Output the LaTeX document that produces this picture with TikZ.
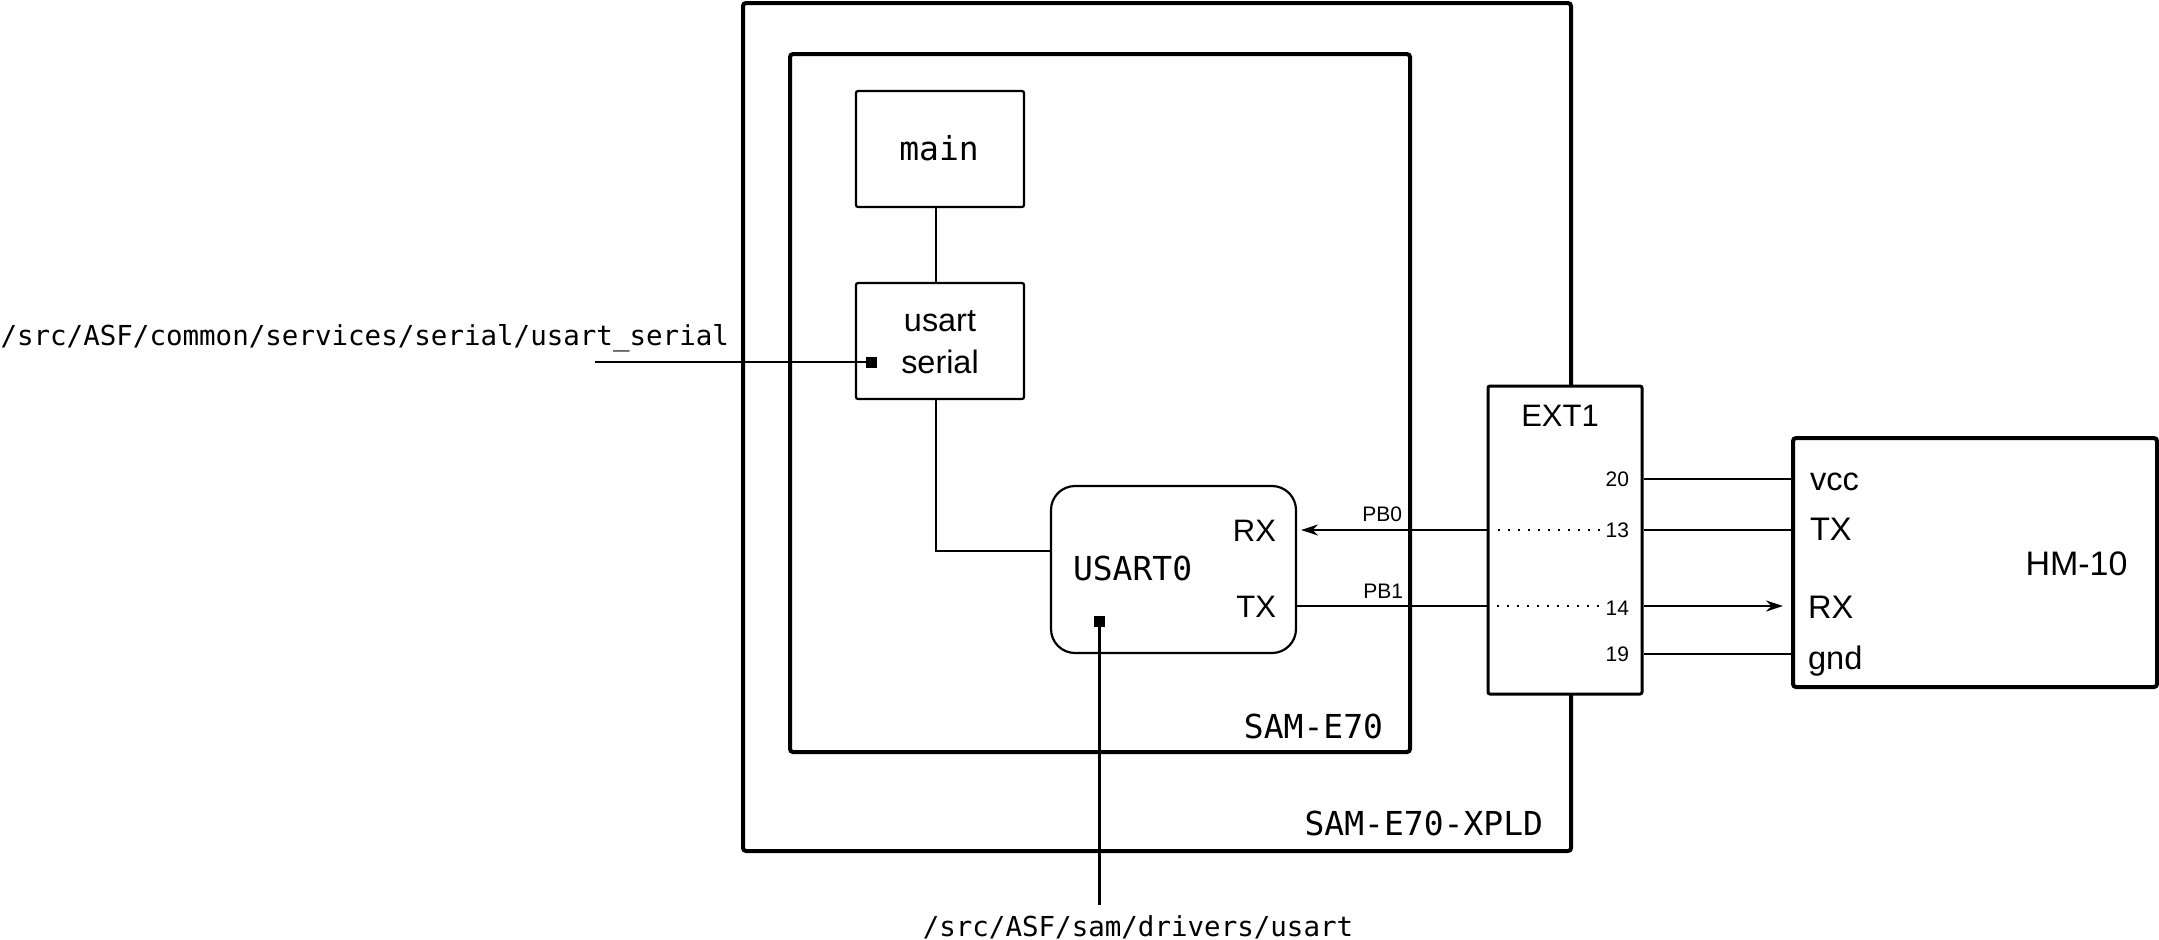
\documentclass[tikz,border=0pt]{standalone}
\usepackage{fontspec}
\setmainfont{Liberation Sans}
\setmonofont{DejaVu Sans Mono}
\usetikzlibrary{arrows.meta,calc}
\newcommand\fmonoL{\ttfamily\fontsize{16.5pt}{20pt}\selectfont}
\newcommand\fmonoS{\ttfamily\fontsize{13.75pt}{16pt}\selectfont}
\newcommand\fsansL{\fontsize{16.2pt}{20pt}\selectfont}
\newcommand\fsansM{\fontsize{15.5pt}{18pt}\selectfont}
\newcommand\fsansH{\fontsize{16.3pt}{20pt}\selectfont}
\newcommand\fsansX{\fontsize{17pt}{20pt}\selectfont}
\newcommand\fsansS{\fontsize{10.5pt}{12pt}\selectfont}
\begin{document}
\begin{tikzpicture}[x=0.5pt,y=-0.5pt,
  bigbox/.style={draw, line width=2pt, rounded corners=1.5pt, inner sep=0},
  smallbox/.style={draw, line width=1.1pt, rounded corners=1pt, inner sep=0},
  ubox/.style={draw, line width=1.1pt, rounded corners=12pt, inner sep=0},
  extbox/.style={draw, fill=white, line width=1.5pt, rounded corners=1pt, inner sep=0},
  lbl/.style={inner sep=0, outer sep=0},
  wire/.style={line width=1.15pt},
  sq/.style={fill=black, inner sep=0, outer sep=0, minimum size=5.5pt},
  dots/.style={line width=1pt, dash pattern=on 1pt off 4pt},
  arr/.style={-{Stealth[length=8.5pt,width=5.5pt]}}]
\fill[white] (0,0) rectangle (2159,939);
\useasboundingbox (0,0) rectangle (2159,939);
% enclosing boards
\node[bigbox, minimum width=414pt, minimum height=424pt] (xpld) at (1157,427) {};
\node[bigbox, minimum width=310pt, minimum height=349pt] (same70) at (1100,403) {};
\node[lbl, font=\fmonoL, anchor=base east] (same70lbl) at (1383,738) {SAM-E70};
\node[lbl, font=\fmonoL, anchor=base east] (xpldlbl) at (1543,835) {SAM-E70-XPLD};
% software blocks
\node[smallbox, minimum width=84pt, minimum height=58pt] (main) at (940,149) {};
\node[lbl, font=\fmonoL, anchor=base] (maintxt) at (939,160) {main};
\node[smallbox, minimum width=84pt, minimum height=58pt] (userial) at (940,341) {};
\node[lbl, font=\fsansL, anchor=base] (ustxt1) at (940,331.7) {usart};
\node[lbl, font=\fsansL, anchor=base] (ustxt2) at (940,373.3) {serial};
\node[ubox, minimum width=122.5pt, minimum height=83.5pt] (usart0) at (1173.5,569.5) {};
\node[lbl, font=\fmonoL, anchor=base west] (u0txt) at (1073,580) {USART0};
\node[lbl, font=\fsansM, anchor=base east] (rxl) at (1276,541) {RX};
\node[lbl, font=\fsansM, anchor=base east] (txl) at (1276,617) {TX};
% markers and paths
\node[sq] (sq1) at (871.5,362) {};
\node[sq] (sq2) at (1099.5,621) {};
\coordinate (lend) at (595,362);
\coordinate (bend) at (1099.5,905);
\node[lbl, font=\fmonoS, anchor=base east] (path1) at (729,345) {/src/ASF/common/services/serial/usart\_serial};
\node[lbl, font=\fmonoS, anchor=base] (path2) at (1138,936) {/src/ASF/sam/drivers/usart};
\draw[wire] (lend) -- (sq1);
\draw[wire] (sq2) -- (bend);
\draw[wire] ($(main.south)+(-4,0)$) -- ($(userial.north)+(-4,0)$);
\draw[wire] ($(userial.south)+(-4,0)$) |- ($(usart0.west)+(0,-18.5)$);
% wire rows
\coordinate (w20) at (1600,479);
\coordinate (w13) at (1600,530);
\coordinate (w14) at (1600,606);
\coordinate (w19) at (1600,654);
% EXT1 header
\node[extbox, minimum width=77pt, minimum height=154pt] (ext1) at (1565,540) {};
\node[lbl, font=\fsansM, anchor=base] (ext1lbl) at (1560,426) {EXT1};
\node[lbl, font=\fsansS, anchor=base east] (p20) at (1629,486.7) {20};
\node[lbl, font=\fsansS, anchor=base east] (p13) at (1629,537) {13};
\node[lbl, font=\fsansS, anchor=base east] (p14) at (1629,615) {14};
\node[lbl, font=\fsansS, anchor=base east] (p19) at (1629,661.7) {19};
\draw[dots] (1498,530) -- (1601,530);
\draw[dots] (1497,606) -- (1601,606);
% MCU <-> EXT1
\draw[wire, arr, shorten >=2pt] (ext1.west |- w13) -- (usart0.east |- w13);
\draw[wire] (usart0.east |- w14) -- (ext1.west |- w14);
\node[lbl, font=\fsansS, anchor=base east] (pb0) at (1402,521) {PB0};
\node[lbl, font=\fsansS, anchor=base east] (pb1) at (1403,598) {PB1};
% HM-10
\node[bigbox, minimum width=182pt, minimum height=124.5pt] (hm) at (1975,562.5) {};
\node[lbl, font=\fsansX, anchor=base] (hmlbl) at (2076.5,575) {HM-10};
\node[lbl, font=\fsansH, anchor=base west] (vccl) at (1810,490) {vcc};
\node[lbl, font=\fsansH, anchor=base west] (htxl) at (1810,540.7) {TX};
\node[lbl, font=\fsansH, anchor=base west] (hrxl) at (1808,618) {RX};
\node[lbl, font=\fsansH, anchor=base west] (gndl) at (1808,669) {gnd};
\draw[wire] (ext1.east |- w20) -- (hm.west |- w20);
\draw[wire] (ext1.east |- w13) -- (hm.west |- w13);
\draw[wire, arr, shorten >=4pt] (ext1.east |- w14) -- (hm.west |- w14);
\draw[wire] (ext1.east |- w19) -- (hm.west |- w19);
\end{tikzpicture}
\end{document}
